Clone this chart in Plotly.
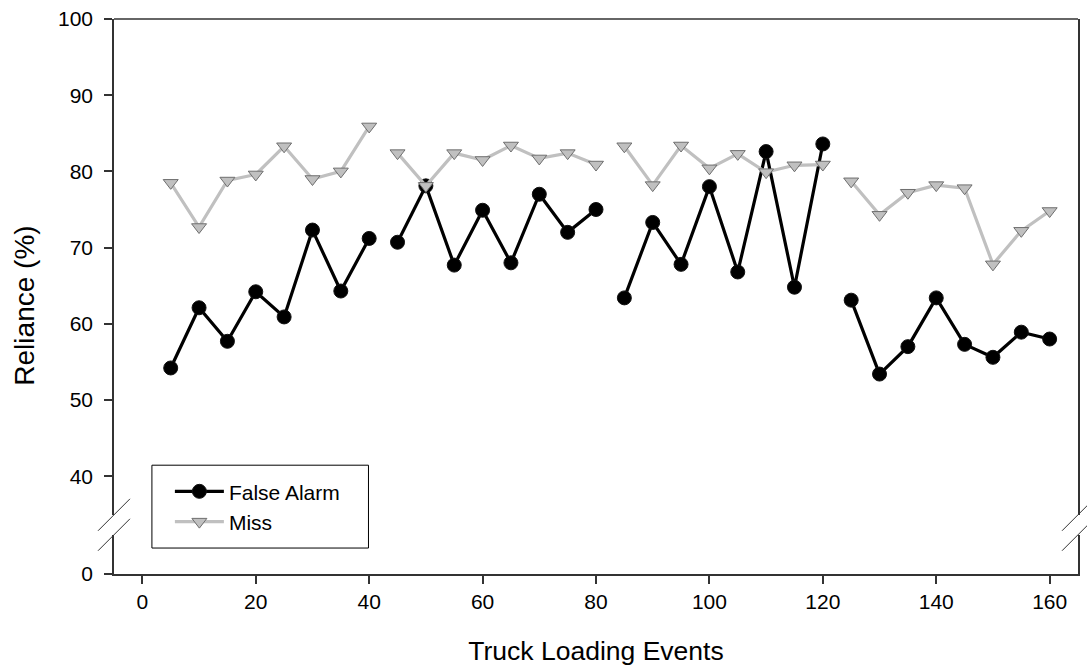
import plotly.graph_objects as go

# Truck loading events (x) grouped into four blocks of eight
events = [5, 10, 15, 20, 25, 30, 35, 40,
          45, 50, 55, 60, 65, 70, 75, 80,
          85, 90, 95, 100, 105, 110, 115, 120,
          125, 130, 135, 140, 145, 150, 155, 160]
block_size = 8

false_alarm = [54.2, 62.1, 57.7, 64.2, 60.9, 72.3, 64.3, 71.2,
               70.7, 78.1, 67.7, 74.9, 68.0, 77.0, 72.0, 75.0,
               63.4, 73.3, 67.8, 78.0, 66.8, 82.6, 64.8, 83.6,
               63.1, 53.4, 57.0, 63.4, 57.3, 55.6, 58.9, 58.0]

miss = [78.5, 72.7, 78.8, 79.6, 83.3, 79.0, 80.0, 85.9,
        82.4, 78.1, 82.4, 81.5, 83.4, 81.7, 82.4, 80.9,
        83.3, 78.2, 83.4, 80.4, 82.3, 79.9, 80.8, 80.9,
        78.7, 74.3, 77.2, 78.2, 77.8, 67.8, 72.2, 74.8]

x_ticks = [0, 20, 40, 60, 80, 100, 120, 140, 160]
y_ticks_upper = [40, 50, 60, 70, 80, 90, 100]
y_ticks_lower = [0]


def with_block_gaps(values):
    """Insert None between blocks so each block is drawn as its own line."""
    out = []
    for i, v in enumerate(values):
        if i > 0 and i % block_size == 0:
            out.append(None)
        out.append(v)
    return out


fig = go.Figure()

# empty trace so the lower (x, y2) segment of the broken axis exists
fig.add_trace(go.Scatter(x=[], y=[], xaxis="x", yaxis="y2",
                         showlegend=False, hoverinfo="skip"))

fig.add_trace(go.Scatter(
    x=with_block_gaps(events), y=with_block_gaps(false_alarm),
    mode="lines+markers", name="False Alarm",
    line=dict(color="black", width=3.2),
    marker=dict(symbol="circle", size=14, color="black",
                line=dict(color="#111111", width=1)),
    xaxis="x", yaxis="y",
))

fig.add_trace(go.Scatter(
    x=with_block_gaps(events), y=with_block_gaps(miss),
    mode="lines+markers", name="Miss",
    line=dict(color="#c0c0c0", width=3.2),
    marker=dict(symbol="triangle-down", size=13, color="#c0c0c0",
                line=dict(color="#6e6e6e", width=1)),
    xaxis="x", yaxis="y",
))

# Plot-area geometry (pixels) used for the broken axis
W, H = 1087, 668
L, R, T, B = 114, 7, 19, 93
pw, ph = W - L - R, H - T - B
upper_bottom_px = 516   # where the upper axis segment ends
lower_top_px = 536      # where the lower axis segment starts
plot_bottom_px = H - B

upper_dom0 = (plot_bottom_px - upper_bottom_px) / ph
lower_dom1 = (plot_bottom_px - lower_top_px) / ph
px_per_unit = (plot_bottom_px - 98 - T) / 60.0
upper_lo = 40 - (upper_bottom_px - (plot_bottom_px - 98)) / px_per_unit
lower_hi = (plot_bottom_px - lower_top_px) / px_per_unit

axis_color = "#333333"
font_family = "Liberation Sans, Arial, sans-serif"
tick_font = dict(family=font_family, size=21, color="black")


def px_to_paper(xp, yp):
    return (xp - L) / pw, (plot_bottom_px - yp) / ph


legend_x, legend_y = px_to_paper(170, 472)

fig.update_layout(
    width=W, height=H,
    margin=dict(l=L, r=R, t=T, b=B),
    paper_bgcolor="white", plot_bgcolor="white",
    font=dict(family=font_family, color="black"),
    showlegend=True,
    legend=dict(
        x=legend_x, y=legend_y,
        xanchor="left", yanchor="top",
        bgcolor="rgba(0,0,0,0)", borderwidth=0,
        font=dict(size=21, color="black"),
        itemwidth=49, tracegroupgap=0,
    ),
    xaxis=dict(
        range=[-5, 165], anchor="y2",
        tickmode="array", tickvals=x_ticks,
        ticks="outside", ticklen=8, tickwidth=1.5, tickcolor=axis_color,
        showline=True, linecolor=axis_color, linewidth=1.5,
        showgrid=False, zeroline=False,
        tickfont=tick_font,
        title=dict(text="Truck Loading Events",
                   font=dict(size=26.5, color="black"), standoff=29),
    ),
    yaxis=dict(
        domain=[upper_dom0, 1], range=[upper_lo, 100],
        tickmode="array", tickvals=y_ticks_upper,
        ticks="outside", ticklen=8, tickwidth=1.5, tickcolor=axis_color,
        showline=True, mirror=True, linecolor=axis_color, linewidth=1.5,
        showgrid=False, zeroline=False,
        tickfont=tick_font, ticklabelstandoff=7,
    ),
    yaxis2=dict(
        domain=[0, lower_dom1], range=[0, lower_hi], anchor="x",
        tickmode="array", tickvals=y_ticks_lower,
        ticks="outside", ticklen=8, tickwidth=1.5, tickcolor=axis_color,
        showline=True, mirror=True, linecolor=axis_color, linewidth=1.5,
        showgrid=False, zeroline=False,
        tickfont=tick_font, ticklabelstandoff=7,
    ),
)

shapes = []
# top border of the frame
shapes.append(dict(type="line", xref="paper", yref="paper",
                   x0=0, x1=1, y0=1, y1=1,
                   line=dict(color=axis_color, width=1.5)))
# axis-break marks on both sides
for cx in (L, W - R):
    for y_low in (531.7, 551.7):
        x0, y0 = px_to_paper(cx - 16, y_low)
        x1, y1 = px_to_paper(cx + 16, y_low - 32)
        shapes.append(dict(type="line", xref="paper", yref="paper",
                           x0=x0, y0=y0, x1=x1, y1=y1,
                           line=dict(color=axis_color, width=1)))
# legend frame
bx0, by0 = px_to_paper(152, 549)
bx1, by1 = px_to_paper(369, 466)
shapes.append(dict(type="rect", xref="paper", yref="paper", layer="below",
                   x0=bx0, y0=by0, x1=bx1, y1=by1,
                   fillcolor="white", line=dict(color="black", width=1)))
fig.update_layout(shapes=shapes)

fig.add_annotation(
    text="Reliance (%)", textangle=-90,
    xref="paper", yref="paper",
    x=(24 - L) / pw, y=(plot_bottom_px - 306) / ph,
    xanchor="center", yanchor="middle", showarrow=False,
    font=dict(size=28, color="black"),
)

fig.write_html("out.html")
